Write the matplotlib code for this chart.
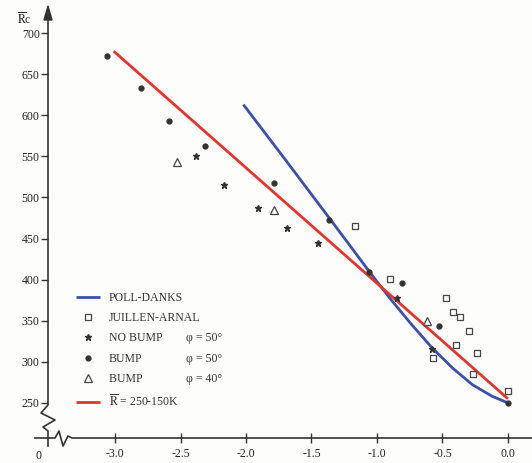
import matplotlib
matplotlib.use("Agg")
import matplotlib.pyplot as plt
import matplotlib.transforms as mtransforms
from matplotlib.lines import Line2D

plt.rcParams['font.family'] = ['Liberation Serif', 'DejaVu Serif']
plt.rcParams['mathtext.fontset'] = 'stix'

# ---------------- data ----------------
poll_k = [-2.02, -1.70, -1.36, -1.20, -1.06, -0.90, -0.75, -0.58, -0.42, -0.27, -0.12, 0.0]
poll_r = [613, 546, 474, 440, 410, 377, 348, 317, 292, 272, 258, 250]

fit_k = [-3.01, 0.0]
fit_r = [678, 255]

juillen_k = [-1.17, -0.90, -0.47, -0.42, -0.37, -0.30, -0.40, -0.57, -0.24, -0.27, 0.0]
juillen_r = [465, 401, 378, 361, 354, 337, 321, 305, 311, 285, 265]

nobump_k = [-2.38, -2.17, -1.91, -1.69, -1.45, -0.85, -0.58]
nobump_r = [551, 515, 487, 463, 445, 378, 316]

bump50_k = [-3.06, -2.80, -2.59, -2.31, -1.79, -1.37, -1.06, -0.81, -0.53, 0.0]
bump50_r = [672, 633, 593, 563, 518, 473, 409, 396, 344, 250]

bump40_k = [-2.53, -1.79, -0.62]
bump40_r = [543, 485, 350]

xticks = [-3.0, -2.5, -2.0, -1.5, -1.0, -0.5, 0.0]
xticklabels = ["-3.0", "-2.5", "-2.0", "-1.5", "-1.0", "-0.5", "0.0"]
yticks = [250, 300, 350, 400, 450, 500, 550, 600, 650, 700]

W, H = 532, 463
fig = plt.figure(figsize=(W / 100, H / 100), dpi=100)
fig.patch.set_facecolor('#fdfdfb')

# axes placed in pixel terms
L, R, T, B = 48, 530, 8, 438
ax = fig.add_axes([L / W, (H - B) / H, (R - L) / W, (B - T) / H])
ax.set_facecolor('none')
ax.set_xlim(-3.5115, 0.168)
ax.set_ylim(207.3, 730.5)
for s in ax.spines.values():
    s.set_visible(False)

blue = '#3b4fae'
red = '#e8332c'
ink = '#333333'

ax.plot(poll_k, poll_r, color=blue, lw=2.0, solid_capstyle='butt', solid_joinstyle='round',
        zorder=3, label='POLL-DANKS')
ax.plot(juillen_k, juillen_r, linestyle='none', marker='s', ms=5.0, mfc='white', mec='#444444', mew=0.9,
        zorder=4, label='JUILLEN-ARNAL')
ax.plot(nobump_k, nobump_r, linestyle='none', marker='*', ms=5, color='#333333', zorder=4, label='NO BUMP')
ax.plot(bump50_k, bump50_r, linestyle='none', marker='o', ms=3.5, color='#333333', zorder=4, label='BUMP')
ax.plot(bump40_k, bump40_r, linestyle='none', marker='^', ms=6, mfc='white', mec='#444444', mew=0.9,
        zorder=4, label='BUMP ')
ax.plot(fit_k, fit_r, color=red, lw=2.0, solid_capstyle='butt', zorder=3,
        label=r'$\overline{\mathrm{R}}$ = 250-150K')

ax.set_xticks(xticks)
ax.set_xticklabels(xticklabels)
ax.set_yticks(yticks)
ax.tick_params(axis='x', direction='inout', length=7, width=1.0, color=ink, labelsize=8.5,
               labelcolor='#222222', pad=4)
ax.tick_params(axis='y', direction='out', length=5, width=1.0, color=ink, labelsize=8.5,
               labelcolor='#222222', pad=1)

# ---------------- axis lines with breaks (pixel coordinates) ----------------
ptrans = mtransforms.Affine2D().scale(1 / W, -1 / H).translate(0, 1) + fig.transFigure
yaxis_px = [(48, 14), (48, 405), (41, 413), (55, 420), (43, 427), (48, 431), (48, 446)]
xaxis_px = [(35, 438), (55, 438), (59, 431), (63, 446), (68, 436), (72, 438), (532, 438)]
for pts in (yaxis_px, xaxis_px):
    xs, ys = zip(*pts)
    fig.add_artist(Line2D(xs, ys, transform=ptrans, color=ink, lw=1.2))
# arrow head at top of y axis
arr = plt.Polygon([(48, 6), (44, 20), (52, 20)], closed=True, transform=ptrans, color=ink)
fig.add_artist(arr)

fig.text(38 / W, 1 - 456 / H, '0', transform=fig.transFigure, ha='center', va='center',
         fontsize=8.5, color='#222222')
fig.text(24 / W, 1 - 19 / H, r'$\overline{\mathrm{R}}$c', ha='center', va='center',
         fontsize=8.5, color='#222222')

# ---------------- legend ----------------
leg = ax.legend(loc='upper left', bbox_to_anchor=(70 / W, 1 - 286 / H),
                bbox_transform=fig.transFigure, frameon=False, fontsize=8.5,
                handlelength=2.0, handletextpad=0.8, labelspacing=0.70, borderpad=0)
for t in leg.get_texts():
    t.set_color('#333333')

fig.canvas.draw()
texts = leg.get_texts()
extras = {2: 'φ = 50°', 3: 'φ = 50°', 4: 'φ = 40°'}
inv = fig.transFigure.inverted()
for i, s in extras.items():
    bb = texts[i].get_window_extent()
    yc = (bb.y0 + bb.y1) / 2
    _, yf = inv.transform((0, yc))
    fig.text(186 / W, yf, s, ha='left', va='center', fontsize=8.5, color='#333333')

fig.savefig('out.png', dpi=100, facecolor=fig.get_facecolor())
